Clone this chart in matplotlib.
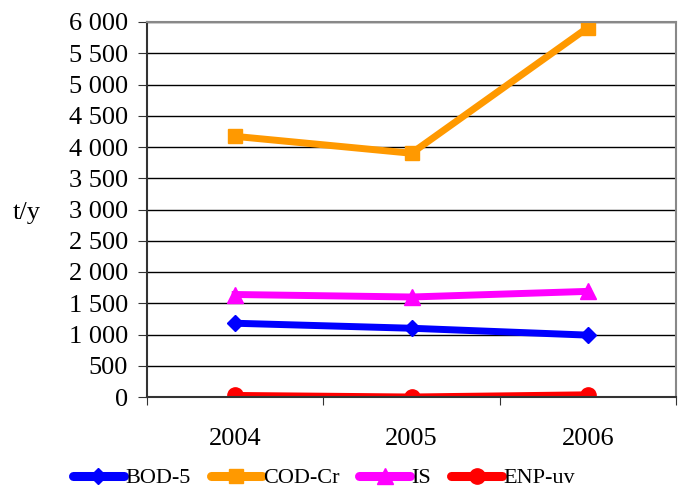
import matplotlib.pyplot as plt
from matplotlib.ticker import FuncFormatter, MultipleLocator

# data
years = ['2004', '2005', '2006']
bod5 = [1180, 1100, 990]
cod_cr = [4170, 3900, 5910]
is_vals = [1640, 1600, 1690]
enp_uv = [25, 0, 35]

plt.rcParams['font.family'] = ['Liberation Serif', 'DejaVu Serif']

fig = plt.figure(dpi=100, figsize=(6.96, 4.92))
ax = fig.add_axes([147/696, 1-397/492, (676-147)/696, (397-22)/492])

x = [0.5, 1.5, 2.5]
ax.plot(x, bod5, c='#0000ff', lw=5, marker='D', ms=8, label='BOD-5')
ax.plot(x, cod_cr, c='#ff9900', lw=5, marker='s', ms=10, label='COD-Cr')
ax.plot(x, is_vals, c='#ff00ff', lw=5, marker='^', ms=11, label='IS')
ax.plot(x, enp_uv, c='#ff0000', lw=5, marker='o', ms=11, label='ENP-uv')

# Format plot
ax.set_xlim(0, 3)
ax.set_ylim(0, 6000)
ax.yaxis.set_major_locator(MultipleLocator(500))
ax.yaxis.set_major_formatter(FuncFormatter(lambda v, p: f'{int(v):,}'.replace(',', ' ')))
ax.set_xticks([0, 1, 2, 3])
ax.set_xticklabels([])
ax.set_xticks(x, minor=True)
ax.set_xticklabels(years, minor=True)
ax.tick_params(axis='x', which='minor', length=0, pad=22, labelsize=19)
ax.tick_params(axis='x', which='major', length=6, direction='out', color='#333333')
ax.tick_params(axis='y', length=6.5, direction='out', labelsize=19, pad=7, color='#333333')
ax.grid(axis='y', color='black', lw=1)
ax.set_axisbelow(True)
for s in ['top', 'right']:
	ax.spines[s].set_color('#888888')
	ax.spines[s].set_linewidth(1.5)
for s in ['left', 'bottom']:
	ax.spines[s].set_color('#333333')
	ax.spines[s].set_linewidth(1.5)

fig.text(27/696, 1-213/492, 't/y', fontsize=19, ha='center', va='center')
leg = fig.legend(loc='center', bbox_to_anchor=(324/696, 1-478/492), ncol=4, frameon=False,
	fontsize=16, handlelength=2.3, handletextpad=0.05, columnspacing=0.9, borderpad=0)
for ln in leg.get_lines():
	ln.set_linewidth(6.5)
	ln.set_solid_capstyle('round')

plt.savefig('out.png')
